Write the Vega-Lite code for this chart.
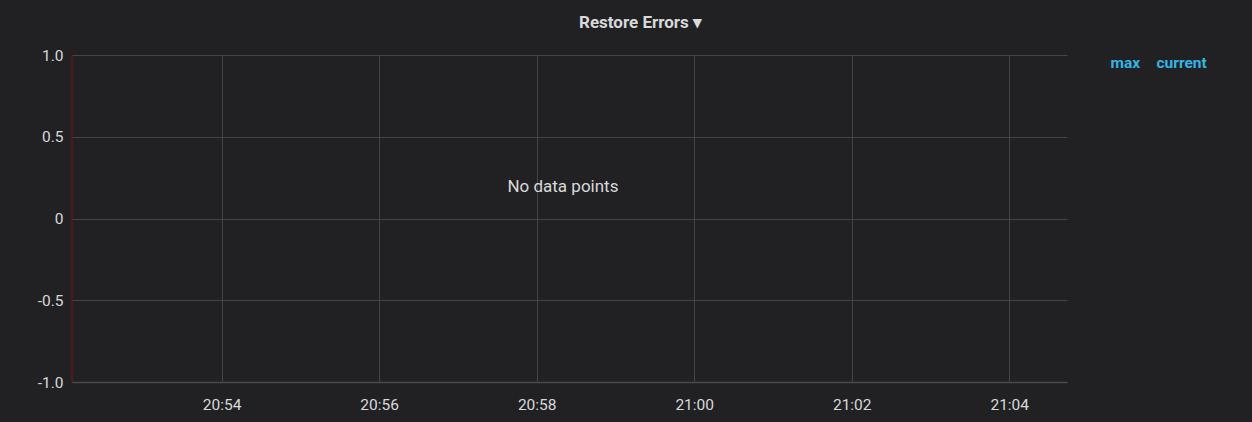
{
  "$schema": "https://vega.github.io/schema/vega-lite/v6.json",
  "autosize": {"type": "none"},
  "width": 995,
  "height": 327,
  "padding": {"left": 72, "top": 55, "right": 185, "bottom": 40},
  "background": "#212124",
  "title": {
    "text": "Restore Errors ▾",
    "color": "#d8d9da",
    "font": "Roboto",
    "fontSize": 17,
    "fontWeight": "bold",
    "anchor": "middle",
    "baseline": "alphabetic",
    "offset": 3,
    "dx": 71
  },
  "config": {
    "view": {"stroke": null},
    "axis": {
      "labelFont": "Roboto",
      "labelFontSize": 15.5,
      "labelColor": "#d8d9da",
      "gridColor": "#444446",
      "gridWidth": 1,
      "ticks": false,
      "domain": false,
      "title": null
    }
  },
  "datasets": {
    "rule": [{"time": "2018-01-01T20:52:06Z"}],
    "msg": [{"time": "2018-01-01T20:58:20Z", "value": 0.19, "text": "No data points"}],
    "legend": [{"series": "max"}, {"series": "current"}]
  },
  "layer": [
    {
      "data": {"name": "rule"},
      "mark": {"type": "rule", "color": "#8a1010", "strokeWidth": 1},
      "encoding": {
        "x": {
          "field": "time",
          "type": "temporal",
          "scale": {"type": "utc", "domain": ["2018-01-01T20:52:06Z", "2018-01-01T21:04:44Z"]},
          "axis": {
            "labelExpr": "utcFormat(datum.value, '%H:%M')",
            "values": ["2018-01-01T20:54:00Z", "2018-01-01T20:56:00Z", "2018-01-01T20:58:00Z", "2018-01-01T21:00:00Z", "2018-01-01T21:02:00Z", "2018-01-01T21:04:00Z"],
            "labelPadding": 15,
            "domain": true,
            "domainColor": "#4a4a4c",
            "domainWidth": 1.5
          }
        }
      }
    },
    {
      "data": {"name": "msg"},
      "mark": {"type": "text", "color": "#d8d9da", "font": "Roboto", "fontSize": 17, "align": "center", "baseline": "middle"},
      "encoding": {
        "x": {"field": "time", "type": "temporal"},
        "y": {
          "field": "value",
          "type": "quantitative",
          "scale": {"domain": [-1, 1], "nice": false, "zero": false},
          "axis": {
            "values": [-1, -0.5, 0, 0.5, 1],
            "labelExpr": "datum.value == 0 ? '0' : (datum.value < 0 ? '-' + format(-datum.value, '.1f') : format(datum.value, '.1f'))",
            "labelPadding": 9
          }
        },
        "text": {"field": "text"}
      }
    },
    {
      "data": {"name": "legend"},
      "mark": {"type": "point", "opacity": 0},
      "encoding": {
        "color": {
          "field": "series",
          "type": "nominal",
          "scale": {"domain": ["max", "current"], "range": ["#33b5e5", "#33b5e5"]},
          "legend": {
            "title": null,
            "orient": "right",
            "direction": "horizontal",
            "columns": 2,
            "offset": 28,
            "padding": 0,
            "symbolSize": 0,
            "symbolStrokeWidth": 0,
            "labelOffset": 0,
            "columnPadding": 0,
            "labelFont": "Roboto",
            "labelFontSize": 15.5,
            "labelFontWeight": "bold",
            "labelColor": "#33b5e5"
          }
        }
      }
    }
  ]
}
